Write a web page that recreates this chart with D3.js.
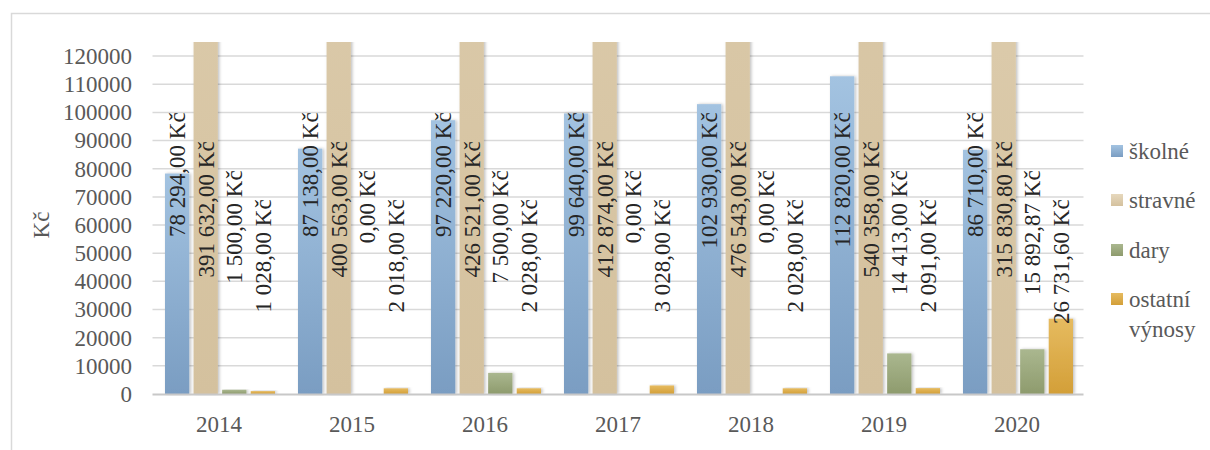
<!DOCTYPE html>
<html>
<head>
<meta charset="utf-8">
<script src="https://cdn.jsdelivr.net/npm/d3@7"></script>
<style>
  body { margin: 0; background: #fff; }
  svg { display: block; }
</style>
</head>
<body>
<svg id="chart" width="1210" height="450"></svg>
<script>
// chart data
const years = ["2014", "2015", "2016", "2017", "2018", "2019", "2020"]
const seriesNames = ["školné", "stravné", "dary", "ostatní výnosy"]
const skolne = [78294, 87138, 97220, 99640, 102930, 112820, 86710]
const stravne = [391632, 400563, 426521, 412874, 476543, 540358, 315830.80]
const dary = [1500, 0, 7500, 0, 0, 14413, 15892.87]
const ostatni = [1028, 2018, 2028, 3028, 2028, 2091, 26731.60]
const yTicks = [0, 10000, 20000, 30000, 40000, 50000, 60000, 70000, 80000, 90000, 100000, 110000, 120000]

const allSeries = [skolne, stravne, dary, ostatni]
const colors = [
  ["#a3c3e1", "#7a9dc2"],
  ["#e6d8bd", "#d4c19e"],
  ["#aab78f", "#8e9b6d"],
  ["#e6bb60", "#d39f38"]
]
const FONT = "'Liberation Serif'"

const svg = d3.select("#chart")
const plot = { left: 152.5, right: 1083.5, top: 42, bottom: 394 }

// outer frame
svg.append("rect")
  .attr("x", 11.5).attr("y", 13.5)
  .attr("width", 1300).attr("height", 500)
  .attr("fill", "none").attr("stroke", "#d9d9d9").attr("stroke-width", 1.5)

const x0 = d3.scaleBand().domain(years).range([plot.left, plot.right])
const x1 = d3.scaleBand().domain(d3.range(4)).range([12.5, 122.5]).paddingInner(0.15)
const y = d3.scaleLinear().domain([0, 125000]).range([plot.bottom, plot.top])

const defs = svg.append("defs")
colors.forEach((c, i) => {
  const g = defs.append("linearGradient").attr("id", "grad" + i)
    .attr("x1", 0).attr("y1", 0).attr("x2", 0).attr("y2", 1)
  g.append("stop").attr("offset", "0%").attr("stop-color", c[0])
  g.append("stop").attr("offset", "100%").attr("stop-color", c[1])
})
defs.append("clipPath").attr("id", "plotclip")
  .append("rect").attr("x", plot.left).attr("y", plot.top)
  .attr("width", plot.right - plot.left).attr("height", plot.bottom - plot.top + 2)
const shadow = defs.append("filter").attr("id", "shadow")
  .attr("x", "-30%").attr("y", "-10%").attr("width", "160%").attr("height", "120%")
shadow.append("feDropShadow").attr("dx", 1.5).attr("dy", 0).attr("stdDeviation", 1.5)
  .attr("flood-color", "#000").attr("flood-opacity", 0.25)

// gridlines
svg.append("g")
  .selectAll("line")
  .data(yTicks.slice(1))
  .join("line")
  .attr("x1", plot.left).attr("x2", plot.right)
  .attr("y1", d => y(d)).attr("y2", d => y(d))
  .attr("stroke", "#d9d9d9").attr("stroke-width", 1.5)

// y tick labels
svg.append("g")
  .selectAll("text")
  .data(yTicks)
  .join("text")
  .attr("x", 132)
  .attr("y", d => y(d))
  .attr("dy", "0.34em")
  .attr("text-anchor", "end")
  .style("font-family", FONT)
  .style("font-size", "23px")
  .attr("fill", "#595959")
  .text(d => d)

svg.append("text")
  .attr("transform", "translate(41,225) rotate(-90)")
  .attr("text-anchor", "middle")
  .attr("dy", "0.34em")
  .style("font-family", FONT)
  .style("font-size", "23px")
  .attr("fill", "#595959")
  .text("Kč")

// bars
const bars = svg.append("g").attr("clip-path", "url(#plotclip)")
years.forEach((yr, j) => {
  allSeries.forEach((s, i) => {
    const v = s[j]
    if (v <= 0) return
    bars.append("rect")
      .attr("x", x0(yr) + x1(i))
      .attr("y", y(v))
      .attr("width", x1.bandwidth())
      .attr("height", plot.bottom - y(v))
      .attr("fill", "url(#grad" + i + ")")
      .attr("filter", "url(#shadow)")
  })
})

// x axis line
svg.append("line")
  .attr("x1", plot.left).attr("x2", plot.right)
  .attr("y1", plot.bottom + 0.5).attr("y2", plot.bottom + 0.5)
  .attr("stroke", "#c8c8c8").attr("stroke-width", 2)

// x labels
svg.append("g")
  .selectAll("text")
  .data(years)
  .join("text")
  .attr("x", d => x0(d) + x0.bandwidth() / 2)
  .attr("y", 432)
  .attr("text-anchor", "middle")
  .style("font-family", FONT)
  .style("font-size", "23px")
  .attr("fill", "#595959")
  .text(d => d)

// data labels, rotated; Excel stacked them at a fixed end height per series
const cz = d3.formatLocale({ decimal: ",", thousands: "\u00a0", grouping: [3], currency: ["", ""] })
const fmt = v => cz.format(",.2f")(v) + "\u00a0Kč"
const labels = svg.append("g")
years.forEach((yr, j) => {
  allSeries.forEach((s, i) => {
    const cx = x0(yr) + x1(i) + x1.bandwidth() / 2
    const endY = y(100000) + i * 29
    labels.append("text")
      .attr("transform", "translate(" + cx + "," + endY + ") rotate(-90)")
      .attr("text-anchor", "end")
      .attr("dy", "0.34em")
      .style("font-family", FONT)
      .style("font-size", "23px")
      .attr("fill", "#262626")
      .text(fmt(s[j]))
  })
})

// legend
const legendRows = [
  { name: "školné", i: 0, y: 151 },
  { name: "stravné", i: 1, y: 200 },
  { name: "dary", i: 2, y: 250 },
  { name: "ostatní", i: 3, y: 299 }
]
const legend = svg.append("g")
legendRows.forEach(r => {
  legend.append("rect")
    .attr("x", 1111).attr("y", r.y - 6)
    .attr("width", 12).attr("height", 12)
    .attr("fill", "url(#grad" + r.i + ")")
  legend.append("text")
    .attr("x", 1129).attr("y", r.y)
    .attr("dy", "0.34em")
    .style("font-family", FONT)
    .style("font-size", "23px")
    .attr("fill", "#595959")
    .text(r.name)
})
legend.append("text")
  .attr("x", 1129).attr("y", 329)
  .attr("dy", "0.34em")
  .style("font-family", FONT)
  .style("font-size", "23px")
  .attr("fill", "#595959")
  .text("výnosy")
</script>
</body>
</html>
